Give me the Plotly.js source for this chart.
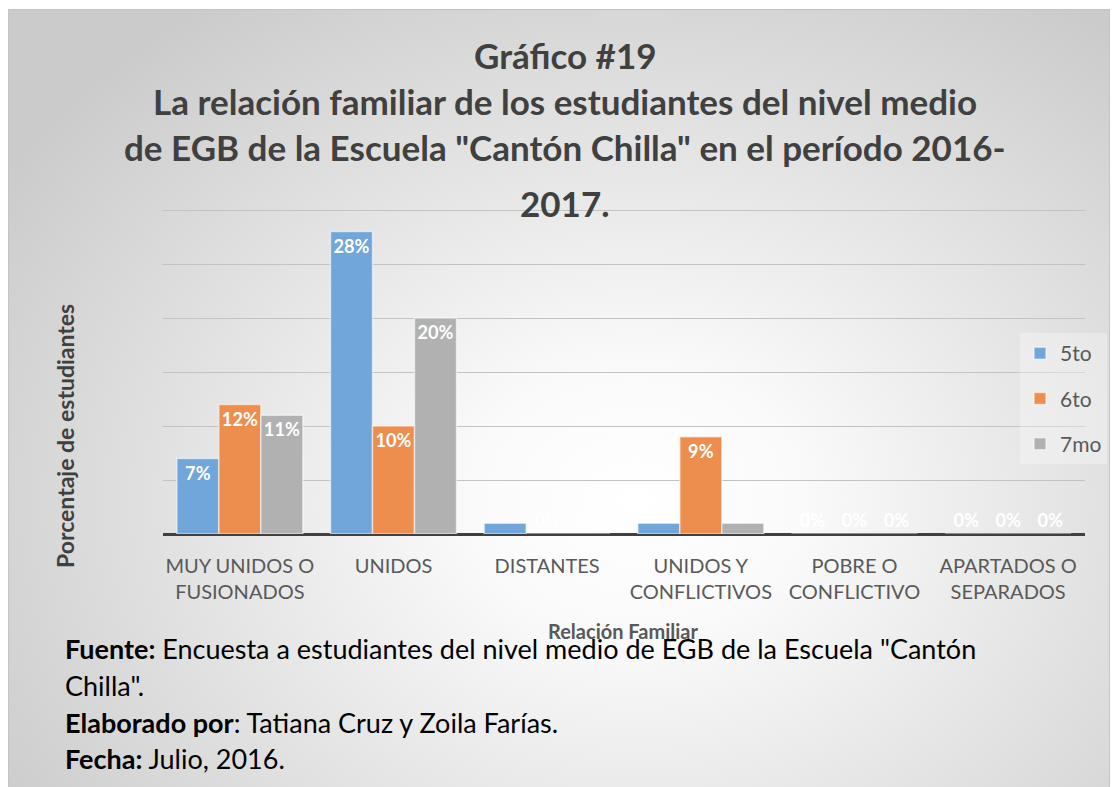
<!DOCTYPE html>
<html>
<head>
<meta charset="utf-8">
<script src="https://cdn.plot.ly/plotly-3.0.1.min.js"></script>
<style>
  body { margin: 0; background: #ffffff; }
  #wrap { position: relative; width: 1120px; height: 787px; }
  #bg {
    position: absolute; left: 8px; top: 9px; width: 1102px; height: 780px;
    border: 1px solid #c4c4c4; box-sizing: border-box;
    background: radial-gradient(ellipse 68% 78% at 57% 63%, #ffffff 0%, #fafafa 22%, #cbcbcb 100%);
  }
  #grafico { position: absolute; left: 0; top: 0; width: 1120px; height: 787px; }
</style>
</head>
<body>
<div id="wrap">
  <div id="bg"></div>
  <div id="grafico"></div>
</div>
<script>
var categorias = ["Muy unidos o fusionados", "Unidos", "Distantes",
                  "Unidos y conflictivos", "Pobre o conflictivo", "Apartados o separados"];
var etiquetas = ["MUY UNIDOS O<br>FUSIONADOS", "UNIDOS", "DISTANTES",
                 "UNIDOS Y<br>CONFLICTIVOS", "POBRE O<br>CONFLICTIVO", "APARTADOS O<br>SEPARADOS"];

var quinto  = [7, 28, 1, 1, 0, 0];
var sexto   = [12, 10, 0, 9, 0, 0];
var septimo = [11, 20, 0, 1, 0, 0];

var fuente = 'Lato, "Open Sans", sans-serif';

function serie(nombre, valores, color) {
  return {
    x: categorias,
    y: valores,
    name: nombre,
    type: 'bar',
    legendgroup: nombre,
    marker: {color: color, line: {color: 'rgba(255,255,255,0.55)', width: 1.5}},
    text: valores.map(function (v) { return v + '%'; }),
    textposition: valores.map(function (v) { return v === 0 ? 'outside' : 'inside'; }),
    insidetextanchor: 'end',
    textangle: 0,
    textfont: {family: fuente, size: 20, color: '#ffffff', weight: 'bold'},
    outsidetextfont: {family: fuente, size: 20, color: '#ffffff', weight: 'bold'},
    cliponaxis: false,
    hoverinfo: 'skip'
  };
}

var data = [
  serie('5to', quinto, '#70a6da'),
  serie('6to', sexto, '#ee8e4e'),
  serie('7mo', septimo, '#b1b1b1')
];

// area de trazado: x 163..1085, y 204..534 (30% cae en y=210)
var top_ = 204, base = 534;
function px(x) { return (x - 163) / 922; }
function py(y) { return (base - y) / (base - top_); }

var titulo = [
  ['Gráfico #19', 55],
  ['La relación familiar de los estudiantes del nivel medio', 101],
  ['de EGB de la Escuela "Cantón Chilla" en el período 2016-', 147],
  ['2017.', 203]
];

var pie = [
  ['<b>Fuente:</b> Encuesta a estudiantes del nivel medio de EGB de la Escuela "Cantón', 648],
  ['Chilla".', 685],
  ['<b>Elaborado por</b>: Tatiana Cruz y Zoila Farías.', 722],
  ['<b>Fecha:</b> Julio, 2016.', 758]
];

var annotations = [];
titulo.forEach(function (t) {
  annotations.push({
    text: t[0], xref: 'paper', yref: 'paper', x: px(565), y: py(t[1]),
    xanchor: 'center', yanchor: 'middle', showarrow: false,
    font: {family: fuente, size: 35, color: '#404040', weight: 'bold'}
  });
});
annotations.push({
  text: 'Relación Familiar', xref: 'paper', yref: 'paper', x: px(623), y: py(631),
  xanchor: 'center', yanchor: 'middle', showarrow: false,
  font: {family: fuente, size: 20, color: '#595959', weight: 'bold'}
});
pie.forEach(function (t) {
  annotations.push({
    text: t[0], xref: 'paper', yref: 'paper', x: px(63), y: py(t[1]),
    xanchor: 'left', yanchor: 'middle', align: 'left', showarrow: false,
    font: {family: fuente, size: 27, color: '#000000'}
  });
});
annotations.push({
  text: 'Porcentaje de estudiantes', xref: 'paper', yref: 'paper', x: px(65), y: py(436),
  xanchor: 'center', yanchor: 'middle', textangle: -90, showarrow: false,
  font: {family: fuente, size: 23, color: '#404040', weight: 'bold'}
});

var layout = {
  width: 1120,
  height: 787,
  autosize: false,
  margin: {l: 163, r: 35, t: top_, b: 787 - base},
  paper_bgcolor: 'rgba(0,0,0,0)',
  plot_bgcolor: 'rgba(0,0,0,0)',
  barmode: 'group',
  bargap: 0.18,
  bargroupgap: 0,
  showlegend: true,
  legend: {
    x: px(1020), y: py(333), xanchor: 'left', yanchor: 'top',
    bgcolor: 'rgba(255,255,255,0.3)',
    font: {family: fuente, size: 21, color: '#595959'},
    tracegroupgap: 15,
    traceorder: 'grouped'
  },
  uniformtext: {mode: 'hide', minsize: 15},
  xaxis: {
    tickmode: 'array',
    tickvals: categorias,
    ticktext: etiquetas,
    tickfont: {family: fuente, size: 20, color: '#595959'},
    ticklabelstandoff: 18,
    ticks: '',
    showline: false,
    showgrid: false,
    fixedrange: true
  },
  yaxis: {
    range: [0, 30 * (base - top_) / (base - 210)],
    dtick: 5,
    showticklabels: false,
    showgrid: true,
    gridcolor: '#c3c3c3',
    gridwidth: 1,
    zeroline: true,
    zerolinecolor: '#404040',
    zerolinewidth: 3,
    fixedrange: true
  },
  annotations: annotations
};

Plotly.newPlot('grafico', data, layout, {displayModeBar: false, staticPlot: true});
</script>
</body>
</html>
